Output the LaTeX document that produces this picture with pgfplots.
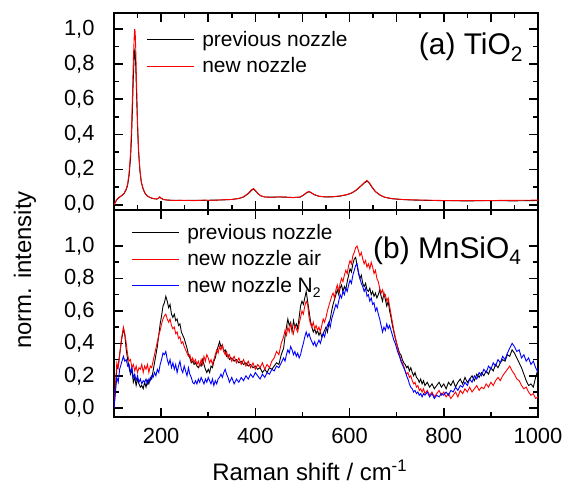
\documentclass[border=0pt]{standalone}
\usepackage{fontspec}
\setmainfont{Liberation Sans}
\usepackage{pgfplots}
\pgfplotsset{compat=1.18}
\definecolor{nred}{RGB}{255,0,0}
\definecolor{nblue}{RGB}{0,0,255}
\newcommand{\sub}[1]{\raisebox{-0.25em}{\fontsize{14}{16}\selectfont #1}}

% shared look of both panels
\pgfplotsset{
  ramanax/.style={
    scale only axis, width=424bp, xmin=100, xmax=1000,
    tick align=inside, xtick pos=both, ytick pos=both,
    axis line style={line width=1.6bp},
    major tick length=9bp, minor tick length=5bp,
    tick style={black, line width=1.6bp},
    minor x tick num=1, minor y tick num=1,
    ytick={0,0.2,0.4,0.6,0.8,1.0},
    tick label style={font=\fontsize{22}{26}\selectfont},
    /pgf/number format/assume math mode=true,
    yticklabel style={xshift=-16bp,
      /pgf/number format/use comma, /pgf/number format/fixed,
      /pgf/number format/fixed zerofill, /pgf/number format/precision=1},
    xticklabel style={/pgf/number format/1000 sep={}, yshift=-8bp},
    legend style={fill=none, draw=none, font=\fontsize{21}{25}\selectfont,
      anchor=north west, inner sep=0pt, row sep=6bp,
      /tikz/every odd column/.append style={column sep=6bp}},
    legend cell align=left,
    legend image code/.code={\draw[line width=1.1bp, ##1] (0bp,0bp) -- (47bp,0bp);},
    every axis plot/.append style={line width=0.9bp},
  }
}

\begin{document}
\begin{tikzpicture}
\useasboundingbox (-114bp,-71bp) rectangle (460bp,417bp);

% (b) MnSiO4
\begin{axis}[ramanax, at={(0bp,0bp)}, anchor=south west, height=207bp,
  ymin=-0.054, ymax=1.222, xtick={200,400,600,800,1000},
  legend style={at={(rel axis cs:0,1)}, xshift=17bp, yshift=-12bp},
  xlabel={Raman shift / cm\textsuperscript{-1}}, ylabel={norm. intensity},
  label style={font=\fontsize{24}{28}\selectfont},
  xlabel style={at={(axis description cs:0.4616,-0.256)}, anchor=center},
  ylabel style={at={(axis description cs:-0.21,0.71)}, anchor=center}]
\addplot[color=black] coordinates {
(100,0.00)(103,0.12)(106,0.24)(109,0.26)(112,0.33)(116,0.42)(120,0.49)(123,0.45)(126,0.36)(129,0.30)
(132,0.25)(135,0.21)(138,0.24)(141,0.16)(144,0.19)(147,0.14)(150,0.18)(153,0.15)(156,0.13)(159,0.14)
(162,0.12)(165,0.16)(168,0.13)(171,0.17)(174,0.15)(177,0.19)(180,0.18)(183,0.23)(186,0.28)(189,0.33)
(192,0.38)(195,0.45)(198,0.52)(201,0.57)(204,0.63)(207,0.65)(210,0.69)(213,0.66)(216,0.62)(219,0.64)
(222,0.58)(225,0.56)(228,0.58)(231,0.54)(234,0.55)(237,0.51)(240,0.52)(243,0.47)(246,0.45)(249,0.43)
(252,0.40)(255,0.37)(258,0.33)(261,0.31)(264,0.28)(267,0.29)(270,0.27)(273,0.28)(276,0.26)(279,0.25)
(282,0.27)(285,0.26)(288,0.30)(291,0.27)(294,0.24)(297,0.22)(300,0.24)(303,0.22)(306,0.26)(309,0.25)
(312,0.29)(315,0.31)(318,0.35)(321,0.38)(324,0.41)(327,0.38)(330,0.39)(333,0.35)(336,0.36)(339,0.32)
(342,0.33)(345,0.30)(350,0.31)(355,0.29)(360,0.30)(365,0.28)(370,0.29)(375,0.27)(380,0.28)(385,0.26)
(390,0.27)(395,0.25)(400,0.26)(405,0.24)(410,0.25)(415,0.22)(420,0.24)(425,0.22)(430,0.25)(435,0.24)
(440,0.26)(445,0.28)(450,0.27)(455,0.33)(460,0.37)(463,0.44)(466,0.50)(469,0.55)(472,0.51)(475,0.53)
(478,0.47)(481,0.54)(484,0.50)(487,0.52)(490,0.49)(493,0.56)(496,0.63)(499,0.66)(502,0.64)(505,0.68)
(508,0.72)(511,0.66)(514,0.60)(517,0.54)(520,0.50)(523,0.47)(526,0.49)(529,0.46)(532,0.48)(535,0.45)
(538,0.47)(541,0.44)(544,0.46)(547,0.48)(550,0.50)(553,0.47)(556,0.52)(559,0.55)(562,0.60)(565,0.64)
(568,0.67)(571,0.70)(574,0.73)(577,0.70)(580,0.74)(583,0.76)(586,0.72)(589,0.75)(592,0.73)(595,0.78)
(598,0.82)(601,0.86)(604,0.84)(607,0.89)(610,0.92)(613,0.93)(616,0.88)(619,0.83)(622,0.80)(625,0.82)
(628,0.77)(631,0.75)(634,0.77)(637,0.73)(640,0.72)(643,0.74)(646,0.70)(649,0.72)(652,0.69)(655,0.71)
(658,0.68)(661,0.70)(664,0.73)(667,0.69)(670,0.66)(673,0.71)(676,0.67)(679,0.63)(682,0.66)(685,0.60)
(688,0.56)(691,0.51)(694,0.47)(697,0.43)(700,0.40)(703,0.37)(706,0.34)(709,0.33)(712,0.30)(715,0.28)
(718,0.27)(721,0.25)(724,0.26)(727,0.23)(730,0.25)(733,0.22)(736,0.20)(739,0.22)(742,0.19)(745,0.18)
(748,0.16)(751,0.18)(754,0.15)(757,0.17)(760,0.14)(765,0.16)(770,0.13)(775,0.15)(780,0.12)(785,0.14)
(790,0.16)(795,0.13)(800,0.15)(805,0.12)(810,0.16)(815,0.14)(820,0.17)(825,0.13)(830,0.16)(835,0.18)
(840,0.15)(845,0.19)(850,0.16)(855,0.18)(860,0.20)(865,0.17)(870,0.21)(875,0.19)(880,0.22)(885,0.20)
(890,0.23)(895,0.21)(900,0.25)(905,0.23)(910,0.27)(915,0.25)(920,0.28)(925,0.30)(930,0.29)(935,0.33)
(940,0.32)(945,0.36)(950,0.34)(955,0.31)(960,0.28)(965,0.25)(970,0.21)(975,0.17)(980,0.14)(985,0.15)
(990,0.13)(995,0.19)(1000,0.24)};
\addlegendentry{previous nozzle}
\addplot[color=nred] coordinates {
(100,0.00)(103,0.14)(106,0.28)(109,0.25)(112,0.33)(116,0.43)(120,0.50)(123,0.46)(126,0.40)(129,0.33)
(132,0.29)(135,0.30)(138,0.25)(141,0.27)(144,0.23)(147,0.26)(150,0.22)(153,0.25)(156,0.24)(159,0.27)
(162,0.22)(165,0.26)(168,0.24)(171,0.27)(174,0.22)(177,0.26)(180,0.25)(183,0.29)(186,0.33)(189,0.37)
(192,0.41)(195,0.45)(198,0.48)(201,0.52)(204,0.55)(207,0.57)(210,0.58)(213,0.55)(216,0.53)(219,0.55)
(222,0.51)(225,0.49)(228,0.50)(231,0.46)(234,0.47)(237,0.43)(240,0.44)(243,0.40)(246,0.41)(249,0.38)
(252,0.36)(255,0.34)(258,0.32)(261,0.33)(264,0.29)(267,0.31)(270,0.28)(273,0.30)(276,0.27)(279,0.29)
(282,0.26)(285,0.30)(288,0.27)(291,0.32)(294,0.29)(297,0.33)(300,0.31)(303,0.28)(306,0.30)(309,0.27)
(312,0.30)(315,0.33)(318,0.36)(321,0.34)(324,0.38)(327,0.36)(330,0.39)(333,0.35)(336,0.33)(339,0.35)
(342,0.31)(345,0.33)(350,0.29)(355,0.32)(360,0.28)(365,0.31)(370,0.27)(375,0.30)(380,0.26)(385,0.29)
(390,0.25)(395,0.28)(400,0.24)(405,0.27)(410,0.25)(415,0.28)(420,0.24)(425,0.27)(430,0.25)(435,0.29)
(440,0.31)(445,0.35)(450,0.33)(455,0.40)(460,0.44)(463,0.48)(466,0.45)(469,0.50)(472,0.47)(475,0.52)
(478,0.49)(481,0.46)(484,0.51)(487,0.49)(490,0.47)(493,0.52)(496,0.56)(499,0.60)(502,0.58)(505,0.63)
(508,0.66)(511,0.64)(514,0.56)(517,0.52)(520,0.50)(523,0.53)(526,0.49)(529,0.51)(532,0.48)(535,0.50)
(538,0.47)(541,0.51)(544,0.55)(547,0.53)(550,0.56)(553,0.60)(556,0.63)(559,0.66)(562,0.69)(565,0.71)
(568,0.68)(571,0.73)(574,0.76)(577,0.72)(580,0.77)(583,0.80)(586,0.78)(589,0.82)(592,0.85)(595,0.83)
(598,0.88)(601,0.91)(604,0.89)(607,0.94)(610,0.96)(613,0.99)(616,1.00)(619,0.97)(622,0.94)(625,0.96)
(628,0.92)(631,0.89)(634,0.91)(637,0.87)(640,0.89)(643,0.86)(646,0.90)(649,0.87)(652,0.83)(655,0.85)
(658,0.80)(661,0.78)(664,0.74)(667,0.71)(670,0.73)(673,0.69)(676,0.70)(679,0.66)(682,0.68)(685,0.63)
(688,0.58)(691,0.53)(694,0.48)(697,0.44)(700,0.40)(703,0.36)(706,0.33)(709,0.30)(712,0.28)(715,0.26)
(718,0.23)(721,0.21)(724,0.22)(727,0.19)(730,0.20)(733,0.17)(736,0.15)(739,0.16)(742,0.13)(745,0.14)
(748,0.11)(751,0.12)(754,0.10)(757,0.12)(760,0.09)(765,0.11)(770,0.08)(775,0.10)(780,0.07)(785,0.09)
(790,0.11)(795,0.08)(800,0.10)(805,0.07)(810,0.09)(815,0.06)(820,0.08)(825,0.10)(830,0.07)(835,0.11)
(840,0.09)(845,0.12)(850,0.10)(855,0.13)(860,0.10)(865,0.12)(870,0.14)(875,0.11)(880,0.13)(885,0.12)
(890,0.15)(895,0.13)(900,0.16)(905,0.14)(910,0.17)(915,0.19)(920,0.17)(925,0.20)(930,0.22)(935,0.24)
(940,0.26)(945,0.23)(950,0.21)(955,0.18)(960,0.17)(965,0.14)(970,0.12)(975,0.13)(980,0.10)(985,0.08)
(990,0.09)(995,0.06)(1000,0.07)};
\addlegendentry{new nozzle air}
\addplot[color=nblue] coordinates {
(100,0.00)(103,0.10)(106,0.19)(109,0.16)(112,0.24)(116,0.28)(120,0.32)(123,0.29)(126,0.30)(129,0.26)
(132,0.27)(135,0.22)(138,0.25)(141,0.19)(144,0.21)(147,0.17)(150,0.20)(153,0.16)(156,0.18)(159,0.15)
(162,0.17)(165,0.16)(168,0.18)(171,0.15)(174,0.18)(177,0.17)(180,0.20)(183,0.19)(186,0.22)(189,0.20)
(192,0.24)(195,0.22)(198,0.27)(201,0.30)(204,0.34)(207,0.33)(210,0.35)(213,0.30)(216,0.27)(219,0.30)
(222,0.25)(225,0.28)(228,0.24)(231,0.27)(234,0.22)(237,0.26)(240,0.29)(243,0.24)(246,0.22)(249,0.26)
(252,0.23)(255,0.20)(258,0.25)(261,0.21)(264,0.19)(267,0.16)(270,0.15)(273,0.17)(276,0.15)(279,0.18)
(282,0.16)(285,0.19)(288,0.17)(291,0.15)(294,0.18)(297,0.16)(300,0.19)(303,0.17)(306,0.15)(309,0.18)
(312,0.14)(315,0.17)(318,0.15)(321,0.18)(324,0.19)(327,0.21)(330,0.19)(333,0.22)(336,0.24)(339,0.21)
(342,0.19)(345,0.16)(350,0.19)(355,0.15)(360,0.18)(365,0.16)(370,0.19)(375,0.17)(380,0.20)(385,0.18)
(390,0.21)(395,0.19)(400,0.22)(405,0.20)(410,0.18)(415,0.21)(420,0.19)(425,0.22)(430,0.21)(435,0.24)
(440,0.23)(445,0.26)(450,0.25)(455,0.28)(460,0.31)(463,0.29)(466,0.33)(469,0.36)(472,0.34)(475,0.38)
(478,0.36)(481,0.33)(484,0.35)(487,0.32)(490,0.34)(493,0.31)(496,0.33)(499,0.37)(502,0.40)(505,0.44)
(508,0.47)(511,0.44)(514,0.46)(517,0.43)(520,0.41)(523,0.39)(526,0.41)(529,0.38)(532,0.40)(535,0.42)
(538,0.40)(541,0.43)(544,0.46)(547,0.44)(550,0.48)(553,0.51)(556,0.53)(559,0.50)(562,0.55)(565,0.58)
(568,0.61)(571,0.64)(574,0.62)(577,0.66)(580,0.70)(583,0.68)(586,0.72)(589,0.70)(592,0.74)(595,0.72)
(598,0.76)(601,0.79)(604,0.77)(607,0.82)(610,0.85)(613,0.88)(616,0.89)(619,0.84)(622,0.80)(625,0.77)
(628,0.75)(631,0.72)(634,0.74)(637,0.69)(640,0.70)(643,0.66)(646,0.68)(649,0.64)(652,0.65)(655,0.60)
(658,0.62)(661,0.58)(664,0.55)(667,0.51)(670,0.47)(673,0.50)(676,0.48)(679,0.52)(682,0.49)(685,0.51)
(688,0.48)(691,0.45)(694,0.42)(697,0.40)(700,0.37)(703,0.34)(706,0.32)(709,0.29)(712,0.27)(715,0.25)
(718,0.23)(721,0.20)(724,0.18)(727,0.15)(730,0.13)(733,0.12)(736,0.10)(739,0.11)(742,0.09)(745,0.10)
(748,0.08)(751,0.09)(754,0.07)(757,0.09)(760,0.08)(765,0.10)(770,0.07)(775,0.09)(780,0.06)(785,0.08)
(790,0.07)(795,0.09)(800,0.08)(805,0.10)(810,0.08)(815,0.11)(820,0.10)(825,0.13)(830,0.11)(835,0.14)
(840,0.13)(845,0.16)(850,0.14)(855,0.18)(860,0.16)(865,0.20)(870,0.18)(875,0.22)(880,0.20)(885,0.24)
(890,0.22)(895,0.26)(900,0.24)(905,0.28)(910,0.26)(915,0.30)(920,0.28)(925,0.32)(930,0.30)(935,0.34)
(940,0.37)(945,0.40)(950,0.38)(955,0.35)(960,0.36)(965,0.31)(970,0.33)(975,0.29)(980,0.31)(985,0.27)
(990,0.29)(995,0.25)(1000,0.22)};
\addlegendentry{new nozzle N\sub{2}}
\node[anchor=base east, inner sep=0pt, font=\fontsize{30}{36}\selectfont]
  at (rel axis cs:0.9616,0.767) {(b) MnSiO\textsubscript{4}};
\end{axis}

% (a) TiO2
\begin{axis}[ramanax, at={(0bp,207bp)}, anchor=south west, height=197bp,
  ymin=-0.03, ymax=1.09, xtick={100,200,...,1000}, xticklabels={},
  legend style={at={(rel axis cs:0,1)}, xshift=32bp, yshift=-16bp}]
\addplot[color=black] coordinates {
(100,0.000)(103,0.014)(106,0.029)(110,0.040)(114,0.047)(118,0.055)(122,0.066)(126,0.086)(129,0.112)
(132,0.165)(135,0.260)(137,0.370)(139,0.530)(141,0.720)(143,0.850)(144,0.877)(145,0.866)(146,0.800)
(148,0.620)(150,0.440)(152,0.305)(155,0.192)(158,0.126)(162,0.088)(166,0.064)(170,0.051)(175,0.043)
(180,0.037)(185,0.034)(190,0.032)(194,0.035)(197,0.043)(200,0.037)(205,0.029)(215,0.026)(230,0.025)
(250,0.024)(270,0.025)(290,0.025)(310,0.026)(330,0.027)(350,0.030)(365,0.035)(375,0.044)(385,0.063)
(392,0.082)(396,0.089)(400,0.080)(405,0.064)(412,0.050)(420,0.044)(435,0.043)(450,0.044)(465,0.043)
(480,0.041)(495,0.043)(502,0.054)(508,0.066)(514,0.074)(518,0.069)(525,0.057)(535,0.048)(550,0.044)
(565,0.045)(580,0.049)(595,0.057)(605,0.067)(615,0.084)(625,0.108)(632,0.125)(637,0.134)(642,0.122)
(648,0.098)(655,0.074)(665,0.054)(675,0.042)(690,0.034)(710,0.030)(730,0.027)(760,0.025)(800,0.023)
(850,0.022)(900,0.023)(950,0.022)(1000,0.024)};
\addlegendentry{previous nozzle}
\addplot[color=nred] coordinates {
(100,0.000)(103,0.015)(106,0.030)(110,0.040)(114,0.048)(118,0.056)(122,0.068)(126,0.090)(129,0.120)
(132,0.180)(135,0.290)(137,0.420)(139,0.600)(141,0.820)(143,0.960)(144,1.000)(145,0.980)(146,0.900)
(148,0.680)(150,0.470)(152,0.320)(155,0.200)(158,0.130)(162,0.090)(166,0.065)(170,0.052)(175,0.043)
(180,0.038)(185,0.035)(190,0.033)(194,0.036)(197,0.045)(200,0.038)(205,0.030)(215,0.026)(230,0.024)
(250,0.025)(270,0.023)(290,0.026)(310,0.025)(330,0.028)(350,0.030)(365,0.036)(375,0.045)(385,0.065)
(392,0.085)(396,0.092)(400,0.082)(405,0.065)(412,0.050)(420,0.044)(435,0.042)(450,0.045)(465,0.043)
(480,0.040)(495,0.044)(502,0.055)(508,0.068)(514,0.076)(518,0.070)(525,0.058)(535,0.048)(550,0.044)
(565,0.046)(580,0.050)(595,0.058)(605,0.068)(615,0.085)(625,0.110)(632,0.128)(637,0.138)(642,0.125)
(648,0.100)(655,0.075)(665,0.055)(675,0.042)(690,0.035)(710,0.030)(730,0.028)(760,0.026)(800,0.024)
(850,0.023)(900,0.024)(950,0.025)(1000,0.026)};
\addlegendentry{new nozzle}
\node[anchor=base east, inner sep=0pt, font=\fontsize{30}{36}\selectfont]
  at (rel axis cs:0.965,0.787) {(a) TiO\textsubscript{2}};
\end{axis}
\end{tikzpicture}
\end{document}
